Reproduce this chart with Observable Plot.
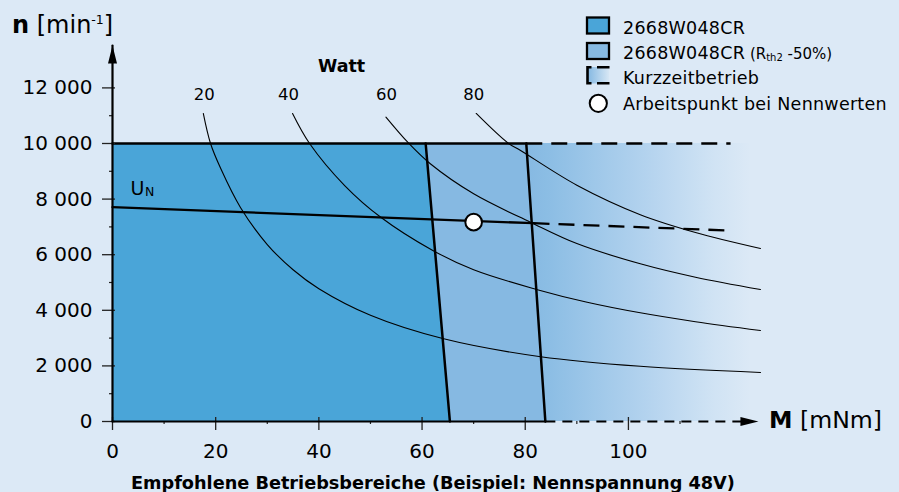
<!DOCTYPE html>
<html><head><meta charset="utf-8">
<script src="https://cdn.jsdelivr.net/npm/d3@7"></script>
<script src="https://cdn.jsdelivr.net/npm/@observablehq/plot@0.6"></script>
<style>
html,body{margin:0;padding:0;background:#dce9f6;}
#chart{width:899px;height:492px;}
</style></head><body><div id="chart"></div>
<script>
// ---------------- data ----------------
const xTicks = [0, 20, 40, 60, 80, 100];
const xTickLabels = ["0", "20", "40", "60", "80", "100"];
const xMinorTicks = [10, 30, 50, 70, 90, 110];
const yTicks = [0, 2000, 4000, 6000, 8000, 10000, 12000];
const yTickLabels = ["0", "2 000", "4 000", "6 000", "8 000", "10 000", "12 000"];
const yMinorTicks = [1000, 3000, 5000, 7000, 9000, 11000];

// constant-power curves (Watt): [M mNm, n min^-1]
const powers = [20, 40, 60, 80];
const powerLabelM = [17.8, 34.1, 53.1, 70.0];
const powerLabelN = 11745;
const curve20 = [[17.6,11080],[19.0,10000],[21.0,9090],[24.8,7700],[30,6366],[35,5457],[40,4775],[50,3820],[64,2984],[83,2330],[102.3,1985],[125.6,1763]];
const curve40 = [[34.9,11080],[38.2,10000],[45,8488],[52,7346],[62,6161],[70,5457],[82,4760],[92,4290],[102.3,3910],[113,3590],[125.6,3273]];
const curve60 = [[53.0,10950],[57.4,10011],[61.6,9270],[70,8190],[81.0,7169],[90,6400],[102.3,5673],[113,5190],[125.6,4748]];
const curve80 = [[70.5,11080],[76.7,10011],[79.1,9748],[90,8500],[102.3,7440],[113,6800],[125.6,6223]];

// operating ranges
const zone1Edge = [{n: 0, m: 65.4}, {n: 10000, m: 60.7}];   // 2668W048CR
const zone2Edge = [{n: 0, m: 83.9}, {n: 10000, m: 80.2}];   // Rth2 -50%
const shortTermRange = [{m1: 80.2, m2: 125.6, n1: 0, n2: 10000}]; // Kurzzeitbetrieb
const limitSolid = [[0, 10000], [80.2, 10000]];
const limitDashed = [[80.2, 10000], [119.8, 10000]];
const unSolid = [[0, 7709], [81.6, 7133]];
const unDashed = [[81.6, 7133], [119.4, 6871]];
const ratedPoint = [[70, 7170]];
const wattLabel = [{m: 44.4, n: 12770, t: "Watt"}];
const unLabel = [{m: 3.5, n: 8353, t: "U"}];
const unSub = [{m: 6.3, n: 8263, t: "N"}];

// axes extents
const xAxisSolid = [[0, 0], [83.9, 0]];
const xAxisDashed = [[83.9, 0], [122.0, 0]];
const yAxisLine = [[0, 0], [0, 13525]];
const arrowTips = [{m: 0, n: 13525, rot: 0}, {m: 125.2, n: 0, rot: 90}];

const legendLabels = ["2668W048CR", "2668W048CR", "Kurzzeitbetrieb", "Arbeitspunkt bei Nennwerten"];
const xTitle = ["M", " [mNm]"];
const yTitle = ["n", " [min", "-1", "]"];
const caption = "Empfohlene Betriebsbereiche (Beispiel: Nennspannung 48V)";

// ---------------- styles ----------------
const C = {bg: "#dce9f6", zone1: "#4aa5d8", zone2: "#86b9e2"};
const FONT = "DejaVu Sans";

const curveTable = [];
[curve20, curve40, curve60, curve80].forEach((c, i) =>
  c.forEach(([m, n]) => curveTable.push({p: powers[i], m, n})));
const powerLabels = powers.map((p, i) => ({p, m: powerLabelM[i], n: powerLabelN}));

const defs = () => {
  const d = d3.create("svg:defs");
  const g = d.append("linearGradient").attr("id", "kz").attr("x1", 0).attr("x2", 1).attr("y1", 0).attr("y2", 0);
  [[0, "#86b9e2"], [0.09, "#8bbde4"], [0.5, "#b2d2ee"], [0.8, "#d0e3f4"], [0.96, C.bg], [1, C.bg]]
    .forEach(([o, c]) => g.append("stop").attr("offset", o).attr("stop-color", c));
  const g2 = d.append("linearGradient").attr("id", "kzl").attr("x1", 0).attr("x2", 1).attr("y1", 0).attr("y2", 0);
  [[0, "#86b9e2"], [1, "#d6e6f4"]].forEach(([o, c]) => g2.append("stop").attr("offset", o).attr("stop-color", c));
  return d.node();
};

const arrowSymbol = {draw(ctx) { ctx.moveTo(0, 0); ctx.lineTo(4.5, 18); ctx.lineTo(-4.5, 18); ctx.closePath(); }};
const P = d => d[0], N = d => d[1];

const plot = Plot.plot({
  width: 899, height: 492,
  marginLeft: 112, marginRight: 139, marginTop: 45, marginBottom: 71,
  x: {domain: [0, 125.6]},
  y: {domain: [0, 13525]},
  style: {fontFamily: FONT, background: C.bg, color: "black", overflow: "visible"},
  marks: [
    defs,
    Plot.rect(shortTermRange, {x1: "m1", x2: "m2", y1: "n1", y2: "n2", fill: "url(#kz)"}),
    Plot.areaX(zone2Edge, {x1: () => 0, x2: "m", y: "n", fill: C.zone2}),
    Plot.areaX(zone1Edge, {x1: () => 0, x2: "m", y: "n", fill: C.zone1}),
    Plot.line(curveTable, {x: "m", y: "n", z: "p", curve: "catmull-rom", stroke: "black", strokeWidth: 1.1}),
    Plot.line(limitSolid, {x: P, y: N, stroke: "black", strokeWidth: 2.5}),
    Plot.line(limitDashed, {x: P, y: N, stroke: "black", strokeWidth: 2.3, strokeDasharray: "16,9", strokeLinecap: "butt"}),
    Plot.line(zone1Edge, {x: "m", y: "n", stroke: "black", strokeWidth: 2.5}),
    Plot.line(zone2Edge, {x: "m", y: "n", stroke: "black", strokeWidth: 2.5}),
    Plot.line(unSolid, {x: P, y: N, stroke: "black", strokeWidth: 2.3}),
    Plot.line(unDashed, {x: P, y: N, stroke: "black", strokeWidth: 2.3, strokeDasharray: "16,9", strokeLinecap: "butt"}),
    Plot.axisX(xTicks, {tickFormat: d => xTickLabels[xTicks.indexOf(d)], tickSize: 13, tickPadding: 13, dy: -4, fontSize: 20, label: null, stroke: "#222", strokeWidth: 1.3}),
    Plot.axisX(xMinorTicks, {tickFormat: () => "", tickSize: 3, label: null, stroke: "#222", strokeWidth: 1.2}),
    Plot.axisY(yTicks, {tickFormat: d => yTickLabels[yTicks.indexOf(d)], tickSize: 13, tickPadding: 10, dx: 3, fontSize: 20, label: null, stroke: "#222", strokeWidth: 1.3}),
    Plot.axisY(yMinorTicks, {tickFormat: () => "", tickSize: 3, label: null, stroke: "#222", strokeWidth: 1.2}),
    Plot.line(xAxisSolid, {x: P, y: N, stroke: "black", strokeWidth: 2.2}),
    Plot.line(xAxisDashed, {x: P, y: N, stroke: "black", strokeWidth: 2.2, strokeDasharray: "10,7", strokeLinecap: "butt"}),
    Plot.line(yAxisLine, {x: P, y: N, stroke: "black", strokeWidth: 2.2}),
    Plot.dot(arrowTips, {x: "m", y: "n", rotate: "rot", symbol: arrowSymbol, fill: "black", stroke: "none"}),
    Plot.dot(ratedPoint, {x: P, y: N, r: 8.3, fill: "white", stroke: "black", strokeWidth: 2}),
    Plot.text(powerLabels, {x: "m", y: "n", text: d => String(d.p), fontSize: 16.5, fill: "black"}),
    Plot.text(wattLabel, {x: "m", y: "n", text: "t", fontSize: 17.5, fontWeight: "bold", fill: "black"}),
    Plot.text(unLabel, {x: "m", y: "n", text: "t", fontSize: 19, textAnchor: "start", fill: "black"}),
    Plot.text(unSub, {x: "m", y: "n", text: "t", fontSize: 12.5, textAnchor: "start", fill: "black"})
  ]
});
document.getElementById("chart").appendChild(plot);

// ---------- titles, legend, caption ----------
const svg = d3.select(plot);
const ov = svg.append("g").attr("font-family", FONT).attr("fill", "black").attr("text-anchor", "start");

const yt = ov.append("text").attr("x", 12).attr("y", 33).attr("font-size", 24);
yt.append("tspan").attr("font-weight", "bold").text(yTitle[0]);
yt.append("tspan").text(yTitle[1]);
yt.append("tspan").attr("font-size", 12.5).attr("dy", -9).text(yTitle[2]);
yt.append("tspan").attr("dy", 9).text(yTitle[3]);

const xt = ov.append("text").attr("x", 769).attr("y", 428).attr("font-size", 23.6);
xt.append("tspan").attr("font-weight", "bold").text(xTitle[0]);
xt.append("tspan").text(xTitle[1]);

ov.append("text").attr("x", 131).attr("y", 489).attr("font-size", 17.7).attr("font-weight", "bold").text(caption);

const lg = ov.append("g");
const rowBase = [33.5, 59, 84, 109.5];
lg.append("rect").attr("x", 587).attr("y", 17.5).attr("width", 22).attr("height", 16).attr("fill", C.zone1).attr("stroke", "black").attr("stroke-width", 2.3);
lg.append("rect").attr("x", 587).attr("y", 43).attr("width", 22).attr("height", 16).attr("fill", C.zone2).attr("stroke", "black").attr("stroke-width", 2.3);
lg.append("rect").attr("x", 588).attr("y", 67).attr("width", 21).attr("height", 16.5).attr("fill", "url(#kzl)");
lg.append("path").attr("d", "M591.5,67.2H587.5V83.3H591.5").attr("fill", "none").attr("stroke", "black").attr("stroke-width", 2.6);
lg.append("path").attr("d", "M597,67.2H609.5M597,83.3H609.5").attr("fill", "none").attr("stroke", "black").attr("stroke-width", 2.6);
lg.append("circle").attr("cx", 598.3).attr("cy", 103.3).attr("r", 8.6).attr("fill", "white").attr("stroke", "black").attr("stroke-width", 2);
legendLabels.forEach((t, i) => {
  const tx = lg.append("text").attr("x", 623).attr("y", rowBase[i]).attr("font-size", 17.5).attr("letter-spacing", 0.25).text(t);
  if (i === 1) {
    tx.append("tspan").attr("font-size", 15).attr("letter-spacing", 0).text(" (R");
    tx.append("tspan").attr("font-size", 10).attr("letter-spacing", 0).attr("dy", 2).text("th2");
    tx.append("tspan").attr("font-size", 15).attr("letter-spacing", 0).attr("dy", -2).text(" -50%)");
  }
});
</script>
</body></html>
